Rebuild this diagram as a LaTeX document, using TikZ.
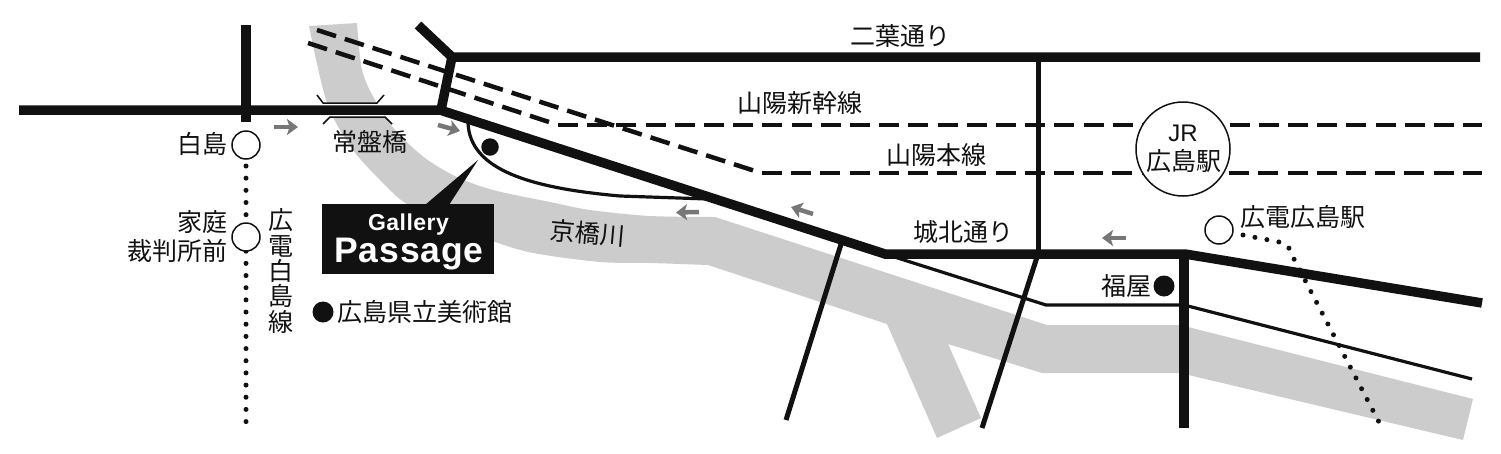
\documentclass[tikz,border=0pt]{standalone}
\usepackage{fontspec}
\usepackage{tikz}
\usetikzlibrary{arrows.meta}
\setmainfont{Liberation Sans}
\newfontfamily\jp{Noto Sans CJK JP}
\definecolor{ink}{HTML}{111111}
\definecolor{rivergray}{HTML}{CCCCCC}
\definecolor{arrowgray}{HTML}{777777}
\tikzset{
    road/.style = {draw=ink, line width=9.5pt, miter limit=10},
    street/.style = {draw=ink, line width=5pt},
    lane/.style = {draw=ink, line width=3.2pt},
    rail/.style = {draw=ink, line width=4.5pt, dash pattern=on 20pt off 9.2pt},
    tram/.style = {draw=ink, line width=5pt, line cap=round, dash pattern=on 0pt off 12.17pt},
    flow/.style = {draw=arrowgray, fill=arrowgray, line width=4.5pt, -{Stealth[length=11pt,width=16pt,inset=2.5pt]}},
    bridgeline/.style = {draw=ink, line width=1.5pt},
    jplabel/.style = {inner sep=0pt, text=ink, font={\jp\fontsize{25}{29}\selectfont}},
    station/.style = {circle, draw=ink, fill=white, line width=1.5pt, minimum size=28pt, inner sep=0pt},
    spot/.style = {circle, fill=ink, inner sep=0pt},
    gallerybox/.style = {fill=ink, inner sep=0pt, minimum width=172pt, minimum height=70pt}
}
\begin{document}
\begin{tikzpicture}[x=1pt, y=-1pt]
  \useasboundingbox (0,0) rectangle (1501,453);
  % river
  \fill [rivergray] plot [smooth] coordinates {(309,26) (327,103) (353,150) (387,187) (407,204) (450,226) (495,242) (533,253) (600,262) (650,263) (708,265)}
    -- (887,324) -- (937,438) -- (981,418) -- (948,344) -- (1042,373) -- (1180,373) -- (1463,440) -- (1473,399) -- (1180,325) -- (1047,325) -- (715,217)
    -- plot [smooth] coordinates {(715,217) (650,216) (590,210) (550,202) (493,190) (457,177) (425,158) (395,130) (375,100) (362,70) (357,23)}
    -- cycle;
  \fill [white] (323,103) -- (377,103) -- (385,117) -- (330,117) -- cycle;
  % railways
  \draw [rail] (308,43) -- (552,123);
  \draw [rail] (317,30) -- (755,171);
  \draw [rail] (558,125) -- (1482,125);
  \draw [rail] (762,173) -- (1482,173);
  % roads
  \draw [lane] (885,254) -- (1046,305) -- (1184,305) -- (1472,379);
  \draw [lane] (468,123) .. controls (470,170) and (530,188) .. (620,196) -- (708,199);
  \draw [street] (842,241) -- (786,420);
  \draw [street] (1038,254) -- (982,428);
  \draw [street] (1038,57) -- (1038,254);
  \draw [road] (19,110) -- (440,110) -- (885,254) -- (1185,254) -- (1482,303);
  \draw [road] (418,25) -- (452,57) -- (1480,57);
  \draw [road] (452,57) -- (441,110);
  \draw [road] (246,25) -- (246,122);
  \draw [road] (1184,254) -- (1184,428);
  % bridge
  \draw [bridgeline] (317,95) -- (323,103) -- (377,103) -- (384,95);
  \draw [bridgeline] (323,124) -- (330,117) -- (385,117) -- (392,124);
  % tram lines
  \draw [tram] (246,166) -- (246,424);
  \draw [tram] (1243,235) -- (1279,242) .. controls (1288,245) .. (1294,259) -- (1381,426);
  % traffic direction
  \draw [flow] (274,127) -- (298,127);
  \draw [flow] (438,125) -- (460,131);
  \draw [flow] (699,212) -- (676,212.5);
  \draw [flow] (813,214) -- (791,207);
  \draw [flow] (1126,238) -- (1102,238);
  % stations
  \node [station] (hakushima) at (246,145) {};
  \node [station] (katei) at (246,237) {};
  \node [station] (hiroden) at (1219,230) {};
  \node [station, minimum size=94pt] (jr) at (1183,149) {};
  \node [inner sep=0pt, text=ink, font=\fontsize{24}{24}\selectfont, anchor=base] (jrname) at (1183,141) {JR};
  \node [jplabel] (jrstation) at (1184,161) {広島駅};
  % spots
  \node [spot, minimum size=17.5pt] (gallerydot) at (490,147) {};
  \node [spot, minimum size=21pt] (fukuya) at (1164,286) {};
  \node [spot, minimum size=21pt] (museum) at (323,312) {};
  % gallery sign
  \node [gallerybox] (passage) at (408,239) {};
  \coordinate (tip) at (478,160);
  \fill [ink] (tip) -- (425,205) -- (449,205) -- cycle;
  \node [inner sep=0pt, text=white, anchor=base, font={\bfseries\addfontfeature{LetterSpace=2}\fontsize{23}{23}\selectfont}] (gallery) at (408.5,230) {Gallery};
  \node [inner sep=0pt, text=white, anchor=base, font={\bfseries\addfontfeature{LetterSpace=2.5}\fontsize{35.5}{35.5}\selectfont}] (passagename) at (409,262) {Passage};
  % labels
  \node [jplabel] (futaba) at (900,36) {二葉通り};
  \node [jplabel] (shinkansen) at (800,103) {山陽新幹線};
  \node [jplabel] (sanyo) at (936,155) {山陽本線};
  \node [jplabel] (tokiwa) at (370,142) {常盤橋};
  \node [jplabel, anchor=east] (hakushimaname) at (228,144) {白島};
  \node [jplabel, anchor=east, align=right] (kateiname) at (228,236.5) {家庭\\裁判所前};
  \node [jplabel, align=center, font={\jp\fontsize{25}{25.4}\selectfont}] (tramname) at (281,271) {広\\電\\白\\島\\線};
  \node [jplabel] (museumname) at (425,312) {広島県立美術館};
  \node [jplabel, rotate=-5] (kyobashi) at (588,233) {京橋川};
  \node [jplabel] (johoku) at (963,232) {城北通り};
  \node [jplabel] (fukuyaname) at (1126,286) {福屋};
  \node [jplabel] (hirodenname) at (1303,217) {広電広島駅};
\end{tikzpicture}
\end{document}
